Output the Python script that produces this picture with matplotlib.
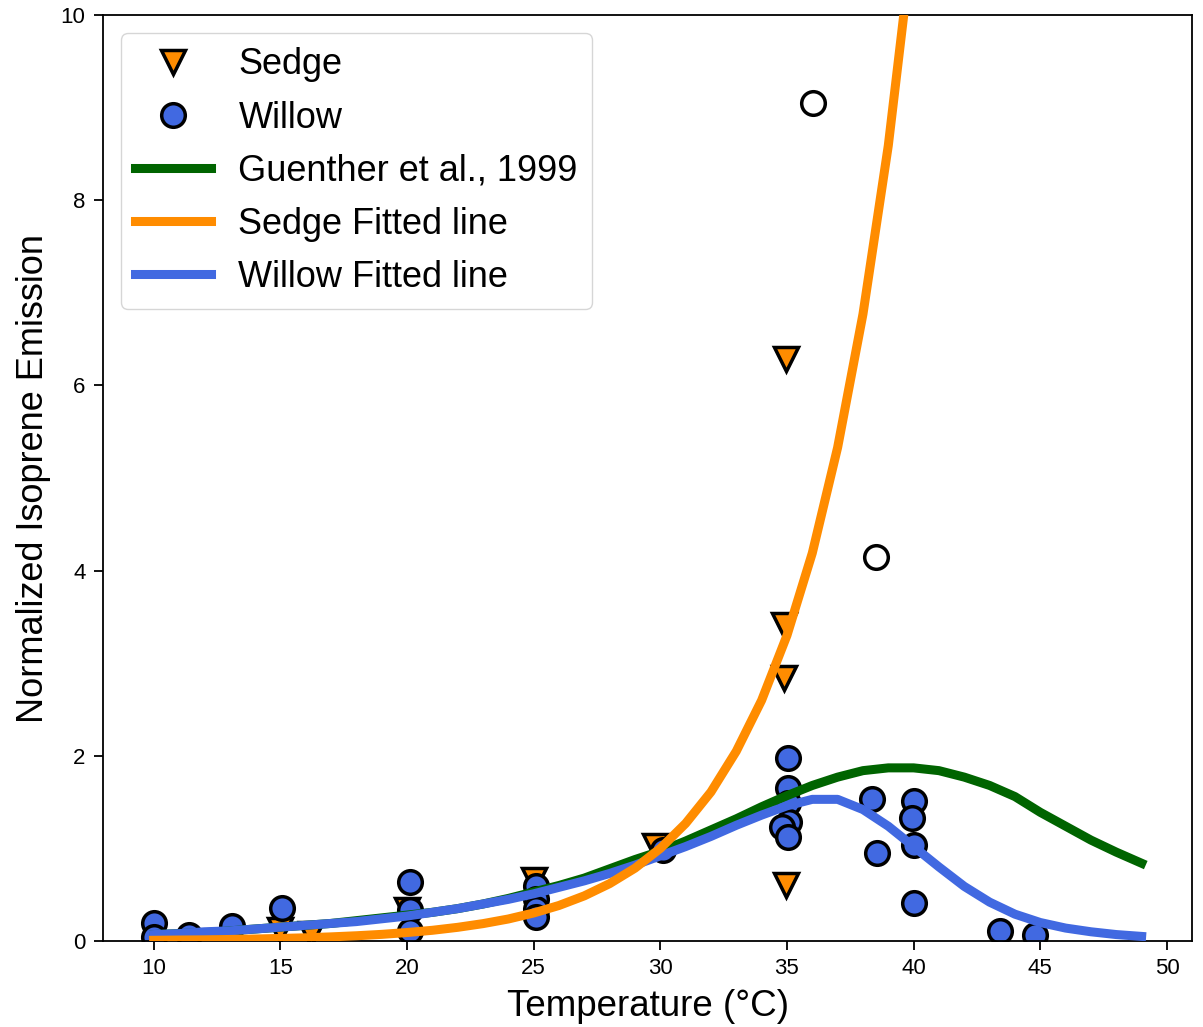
import numpy as np
import matplotlib
matplotlib.use('Agg')
import matplotlib.pyplot as plt
from matplotlib.lines import Line2D

plt.rcParams['font.family'] = ['Liberation Sans', 'DejaVu Sans']

# Messwerte Segge
sedge_T = [15.0, 16.2, 20.0, 25.0, 29.8, 34.95, 34.9, 34.9, 34.95]
sedge_E = [0.12, 0.08, 0.33, 0.66, 1.03, 6.28, 3.41, 2.84, 0.60]

# Messwerte Weide
willow_T = [10.0, 10.0, 11.4, 13.1, 15.05, 20.1, 20.1, 20.1,
            25.1, 25.1, 25.1, 25.1, 30.1,
            35.05, 35.05, 35.05, 35.1, 34.8, 35.05,
            38.35, 38.55, 40.0, 39.95, 40.0, 40.0, 43.4, 44.8]
willow_E = [0.19, 0.04, 0.06, 0.16, 0.36, 0.64, 0.33, 0.11,
            0.59, 0.45, 0.35, 0.26, 0.98,
            1.98, 1.65, 1.49, 1.29, 1.23, 1.12,
            1.53, 0.95, 1.51, 1.33, 1.04, 0.41, 0.11, 0.06]

# Ausreisser (offene Kreise)
out_T = [36.03, 38.52]
out_E = [9.05, 4.15]

# Kurven
T_line = np.arange(10, 50)
guenther = [0.07, 0.08, 0.09, 0.11, 0.13, 0.15, 0.17, 0.19, 0.22, 0.25,
            0.28, 0.31, 0.35, 0.40, 0.46, 0.53, 0.60, 0.68, 0.78, 0.88,
            0.97, 1.08, 1.20, 1.32, 1.45, 1.57, 1.68, 1.77, 1.84, 1.87,
            1.87, 1.84, 1.77, 1.68, 1.56, 1.39, 1.24, 1.09, 0.96, 0.84]
sedge_fit = [0.008, 0.011, 0.013, 0.017, 0.022, 0.028, 0.035, 0.045, 0.057, 0.072,
             0.092, 0.116, 0.148, 0.188, 0.238, 0.303, 0.384, 0.488, 0.620, 0.787,
             1.00, 1.27, 1.61, 2.05, 2.60, 3.30, 4.19, 5.33, 6.77, 8.59,
             10.9, 13.9, 17.6, 22.4, 28.4, 36.1, 45.9, 58.3, 74.1, 94.1]
willow_fit = [0.07, 0.08, 0.10, 0.11, 0.13, 0.15, 0.17, 0.19, 0.21, 0.24,
              0.27, 0.31, 0.35, 0.40, 0.45, 0.51, 0.58, 0.65, 0.73, 0.82,
              0.92, 1.02, 1.13, 1.25, 1.36, 1.46, 1.53, 1.53, 1.42, 1.24,
              1.02, 0.80, 0.59, 0.42, 0.29, 0.20, 0.14, 0.10, 0.07, 0.05]

fig = plt.figure(figsize=(12.03, 10.27), dpi=100)
ax = fig.add_axes([0.0856, 0.0837, 0.9055, 0.9017])

ax.plot(sedge_T, sedge_E, 'v', color='darkorange', markersize=17, mec='black', mew=2.5, zorder=2)
ax.plot(willow_T, willow_E, 'o', color='royalblue', markersize=17, mec='black', mew=2.5, zorder=2)
ax.plot(out_T, out_E, 'o', mfc='white', markersize=17, mec='black', mew=2.5, zorder=2)

lw = 6.5
ax.plot(T_line, guenther, '-', color='darkgreen', linewidth=lw, zorder=3)
ax.plot(T_line, willow_fit, '-', color='royalblue', linewidth=lw, zorder=4)
ax.plot(T_line, sedge_fit, '-', color='darkorange', linewidth=lw, zorder=5)

ax.set_xlim(8, 51)
ax.set_ylim(0, 10)
ax.set_xticks(range(10, 51, 5))
ax.set_yticks(range(0, 11, 2))
for s in ax.spines.values():
    s.set_linewidth(1.3)
ax.tick_params(labelsize=16, length=6.5, width=1.3, pad=6)
ax.set_xlabel('Temperature (°C)', fontsize=26.5, labelpad=7)
ax.set_ylabel('Normalized Isoprene Emission', fontsize=26, labelpad=7)

handles = [
    Line2D([], [], ls='none', marker='v', color='darkorange', markersize=17, mec='black', mew=2.5),
    Line2D([], [], ls='none', marker='o', color='royalblue', markersize=17, mec='black', mew=2.5),
    Line2D([], [], color='darkgreen', linewidth=lw),
    Line2D([], [], color='darkorange', linewidth=lw),
    Line2D([], [], color='royalblue', linewidth=lw),
]
labels = ['Sedge', 'Willow', 'Guenther et al., 1999', 'Sedge Fitted line', 'Willow Fitted line']
ax.legend(handles, labels, loc='upper left', fontsize=26, handlelength=2.1,
          handletextpad=0.75, labelspacing=0.5, borderaxespad=0.5)

plt.savefig('out.png', dpi=100)
